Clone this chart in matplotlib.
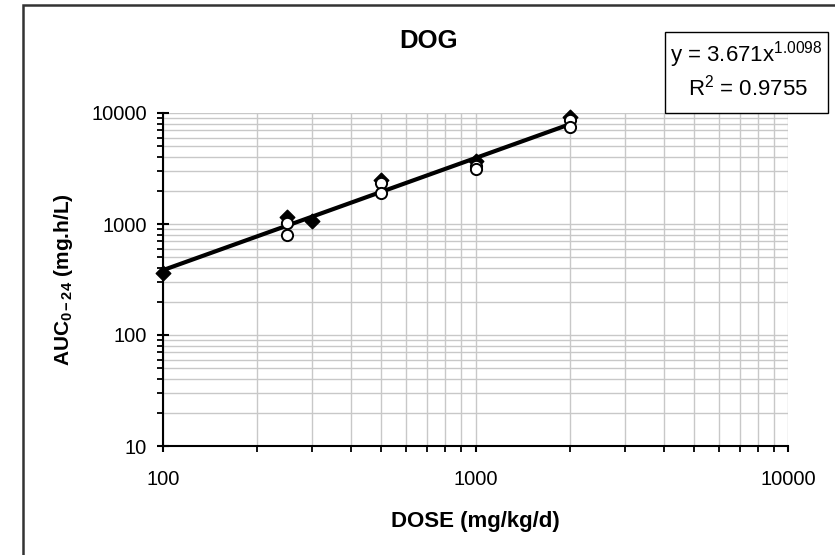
import matplotlib
matplotlib.use("Agg")
import matplotlib.pyplot as plt
import matplotlib.patches as patches
from matplotlib.ticker import LogLocator, FixedLocator, NullFormatter
import numpy as np

plt.rcParams['font.family'] = ['Liberation Sans', 'DejaVu Sans']
plt.rcParams['mathtext.fontset'] = 'custom'
plt.rcParams['mathtext.rm'] = 'Liberation Sans'
plt.rcParams['mathtext.bf'] = 'Liberation Sans:bold'
plt.rcParams['mathtext.it'] = 'Liberation Sans:italic'

# Data
dose_diamond = [100, 250, 300, 500, 1000, 2000]
auc_diamond = [360, 1160, 1065, 2500, 3700, 9150]
dose_circle = [250, 250, 500, 500, 1000, 1000, 2000, 2000]
auc_circle = [1030, 790, 2330, 1890, 3330, 3100, 8650, 7550]
fit_coef = 3.671
fit_exp = 1.0098
fit_r2 = 0.9755
fit_range = [100, 2000]
x_ticks = [100, 1000, 10000]
y_ticks = [10, 100, 1000, 10000]

W, H = 835, 555
fig = plt.figure(figsize=(W / 100, H / 100), dpi=100)
ax = fig.add_axes([163 / W, 1 - 446 / H, (788 - 163) / W, (446 - 113) / H])

ax.set_xscale('log')
ax.set_yscale('log')
ax.set_xlim(100, 10000)
ax.set_ylim(10, 10000)

ax.grid(True, which='both', color='#c8c8c8', linewidth=1.0)
ax.set_axisbelow(True)

xf = np.logspace(np.log10(fit_range[0]), np.log10(fit_range[1]), 200)
ax.plot(xf, fit_coef * xf ** fit_exp, color='black', linewidth=3, zorder=3)

ax.scatter(dose_diamond, auc_diamond, marker='D', s=55, color='black',
           zorder=4, clip_on=False)
ax.scatter(dose_circle, auc_circle, marker='o', s=65, facecolors='white',
           edgecolors='black', linewidths=1.4, zorder=5, clip_on=False)

for s in ['top', 'right']:
    ax.spines[s].set_visible(False)
for s in ['left', 'bottom']:
    ax.spines[s].set_linewidth(1.5)
    ax.spines[s].set_color('black')

ax.xaxis.set_major_locator(FixedLocator(x_ticks))
ax.yaxis.set_major_locator(FixedLocator(y_ticks))
ax.set_xticklabels([str(v) for v in x_ticks])
ax.set_yticklabels([str(v) for v in y_ticks])
ax.xaxis.set_minor_locator(LogLocator(base=10, subs=np.arange(2, 10)))
ax.yaxis.set_minor_locator(LogLocator(base=10, subs=np.arange(2, 10)))
ax.xaxis.set_minor_formatter(NullFormatter())
ax.yaxis.set_minor_formatter(NullFormatter())

ax.tick_params(axis='y', which='major', direction='inout', length=9, width=1.5,
               labelsize=14.5, pad=7)
ax.tick_params(axis='y', which='minor', direction='out', length=4, width=1.3)
ax.tick_params(axis='x', which='major', direction='out', length=4, width=1.5,
               labelsize=14.5, pad=13)
ax.tick_params(axis='x', which='minor', direction='out', length=4, width=1.3)

ax.set_xlabel('DOSE (mg/kg/d)', fontsize=16, fontweight='bold', labelpad=16)
ax.set_ylabel(r'AUC$_{\mathbf{0-24}}$ (mg.h/L)', fontsize=15, fontweight='bold',
              labelpad=12)

fig.text(429 / W, 1 - 41 / H, 'DOG', fontsize=18.5, fontweight='bold',
         ha='center', va='center')

# Equation box
box = patches.Rectangle((665 / W, 1 - 113 / H), (828 - 665) / W, (113 - 32) / H,
                        transform=fig.transFigure, facecolor='white',
                        edgecolor='black', linewidth=1.0)
fig.patches.append(box)
fig.text(746 / W, 1 - 55 / H, r'y = %.3fx$^{%.4f}$' % (fit_coef, fit_exp),
         fontsize=16, ha='center', va='center')
fig.text(748 / W, 1 - 88 / H, r'R$^{2}$ = %.4f' % fit_r2,
         fontsize=16, ha='center', va='center')

# Chart area border (extends past right and bottom edges)
border = patches.Rectangle((23 / W, -0.05), 1.1, 1 - 5 / H + 0.05,
                           transform=fig.transFigure, facecolor='none',
                           edgecolor='#333333', linewidth=1.8, clip_on=False)
fig.patches.append(border)

fig.savefig('out.png', dpi=100, facecolor='white')
